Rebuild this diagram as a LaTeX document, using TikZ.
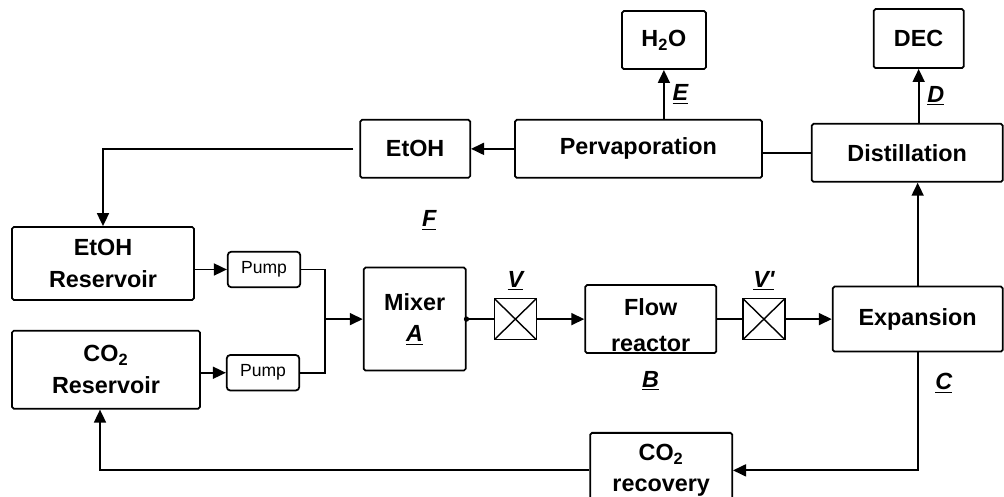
\documentclass[tikz,border=0pt]{standalone}
\usepackage{fontspec}
\setmainfont{Liberation Sans}
\usetikzlibrary{positioning, arrows.meta, calc}
\tikzset{
  unit/.style     ={draw, rounded corners=1pt, align=center, line width=1pt, inner sep=1pt,
                    font=\bfseries\fontsize{13.3}{18}\selectfont},
  pumpbox/.style  ={draw, rounded corners=2pt, line width=1pt, minimum width=1.45cm,
                    minimum height=0.71cm, inner sep=1pt, font=\fontsize{10}{11}\selectfont},
  valve/.style    ={draw, line width=1pt, minimum width=0.84cm, minimum height=0.82cm, inner sep=0pt,
                    path picture={\draw[line width=0.8pt]
                      (path picture bounding box.north west) -- (path picture bounding box.south east)
                      (path picture bounding box.north east) -- (path picture bounding box.south west);}},
  flow/.style     ={-{Triangle[length=2.6mm,width=2.4mm]}, line width=1pt},
  pipe/.style     ={line width=1pt},
  tag/.style      ={font=\bfseries\itshape\fontsize{13.3}{16}\selectfont, inner sep=1pt}
}

\begin{document}
\begin{tikzpicture}
  \useasboundingbox (0,0) rectangle (20.08,9.94);

  % ====================== Feed (left) ======================
  \node[unit, minimum width=3.64cm, minimum height=1.46cm] (etohres) at (2.06,4.67)
        {EtOH\\Reservoir};
  \node[unit, minimum width=3.76cm, minimum height=1.56cm, below=0.58cm of etohres, xshift=0.06cm] (co2res)
        {CO\textsubscript{2}\\Reservoir};
  \node[pumpbox, right=0.64cm of etohres, yshift=-0.12cm] (pump1) {Pump};
  \node[pumpbox, right=0.50cm of co2res, yshift=-0.06cm] (pump2) {Pump};

  \draw[flow] (etohres.east |- pump1.west) -- (pump1.west);
  \draw[flow] (co2res.east |- pump2.west)  -- (pump2.west);

  % ====================== Main line ======================
  \node[unit, minimum width=2.04cm, minimum height=2.06cm] (mixer)
        at ($(pump1.east)!0.5!(pump2.east) + (2.28,0.04)$)
        {Mixer\\\underline{\itshape A}};
  \node[valve, right=0.54cm of mixer] (valv) {};
  \node[unit, minimum width=2.62cm, minimum height=1.36cm, right=0.94cm of valv,
        label={[font=\bfseries\fontsize{13.3}{20}\selectfont, align=center, yshift=-0.12cm]center:{Flow\\reactor}}]
        (reactor) {};
  \node[valve, right=0.50cm of reactor] (valvb) {};
  \node[unit, minimum width=3.40cm, minimum height=1.30cm, right=0.92cm of valvb] (expan) {Expansion};

  \coordinate (join) at ([xshift=-0.76cm]mixer.west);
  \draw[pipe] (pump1.east) -| (join);
  \draw[pipe] (pump2.east) -| (join);
  \draw[flow] (join) -- (mixer.west);
  \draw[pipe] (mixer.east) -- (valv.west);
  \fill (mixer.east) circle (1.5pt);
  \draw[flow] (valv.east) -- (reactor.west);
  \draw[pipe] (reactor.east) -- (valvb.west);
  \draw[flow] (valvb.east) -- (expan.west);

  \node[tag, above=0.1cm of valv]  {\underline{V}};
  \node[tag, above=0.1cm of valvb] {\underline{V\textquotesingle}};
  \node[tag, below=0.3cm of reactor] {\underline{B}};

  % ====================== Separation (top) ======================
  \node[unit, minimum width=3.82cm, minimum height=1.16cm, above=2.06cm of expan.north east,
        anchor=south east] (distil) {Distillation};
  \node[unit, minimum width=4.94cm, minimum height=1.16cm, left=0.96cm of distil, yshift=0.08cm] (pervap)
        {Pervaporation};
  \node[unit, minimum width=2.2cm, minimum height=1.16cm, left=0.86cm of pervap] (etoh) {EtOH};
  \node[unit, minimum width=1.68cm, minimum height=1.16cm, above=0.98cm of pervap, xshift=0.51cm] (h2o)
        {H\textsubscript{2}O};
  \node[unit, minimum width=1.80cm, minimum height=1.18cm, above=1.08cm of distil, xshift=0.23cm] (dec)
        {DEC};

  \draw[flow] (expan.north) -- (expan.north |- distil.south);
  \draw[pipe] (distil.west) -- (distil.west -| pervap.east);
  \draw[flow] (pervap.west) -- (etoh.east);
  \draw[flow] (h2o.south |- pervap.north) -- (h2o.south)
        node[midway, right=0.12cm, tag] {\underline{E}};
  \draw[flow] (dec.south |- distil.north) -- (dec.south)
        node[midway, right=0.12cm, tag] {\underline{D}};
  \draw[flow, shorten <=0.12cm] (etoh.west) -| (etohres.north);

  \node[tag, below=0.6cm of etoh, xshift=0.28cm] {\underline{F}};

  % ====================== CO2 recycle ======================
  \node[unit, minimum width=2.84cm, minimum height=1.5cm, below=1.56cm of reactor, xshift=0.21cm] (co2rec)
        {CO\textsubscript{2}\\recovery};

  \draw[flow] (expan.south) |- (co2rec.east)
        node[pos=0.13, right=0.3cm, tag] {\underline{C}};
  \draw[flow] (co2rec.west) -| ([xshift=-0.12cm]co2res.south);

\end{tikzpicture}
\end{document}
